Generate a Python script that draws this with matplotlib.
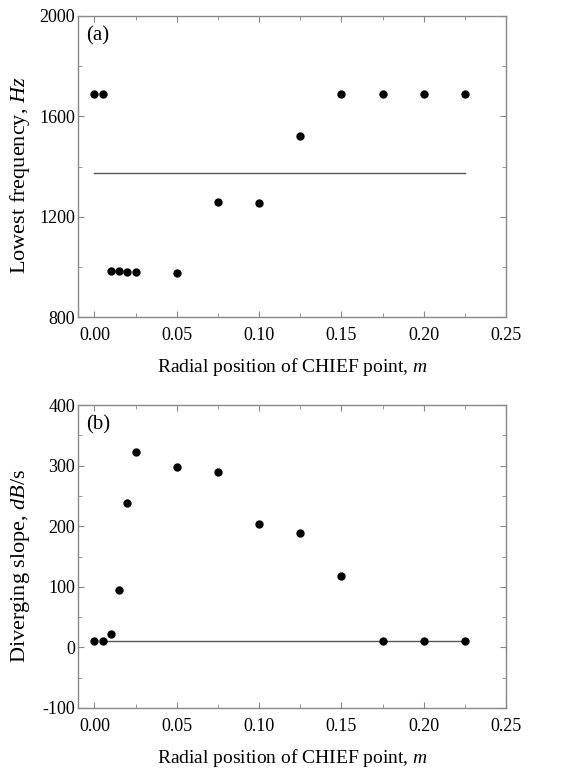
import matplotlib
matplotlib.use("Agg")
import matplotlib.pyplot as plt
from matplotlib.ticker import MultipleLocator

plt.rcParams['font.family'] = ['Liberation Serif', 'DejaVu Serif']
plt.rcParams['mathtext.fontset'] = 'custom'
plt.rcParams['mathtext.it'] = 'Liberation Serif:italic'
plt.rcParams['mathtext.rm'] = 'Liberation Serif'
plt.rcParams['axes.unicode_minus'] = False

# radial position of CHIEF point (m)
radial_pos = [0.0, 0.005, 0.01, 0.015, 0.02, 0.025, 0.05, 0.075, 0.1, 0.125, 0.15, 0.175, 0.2, 0.225]

# (a) lowest frequency, Hz
lowest_freq = [1690, 1690, 983, 982, 980, 979, 976, 1257, 1253, 1521, 1690, 1690, 1690, 1690]
freq_ref = 1375
freq_ref_x = [0.0, 0.225]

# (b) diverging slope, dB/s
div_slope = [10, 10, 22, 94, 238, 323, 297, 290, 203, 189, 118, 10, 10, 10]
slope_ref = 10
slope_ref_x = [0.005, 0.225]

fig = plt.figure(figsize=(5.61, 7.69), dpi=100)
W, H = 561, 769
ax_a = fig.add_axes([78 / W, 1 - 317 / H, 428 / W, 301 / H])
ax_b = fig.add_axes([78 / W, 1 - 708 / H, 428 / W, 303 / H])

spine_col = '#888888'
tick_fs = 13
label_fs = 14
ylabel_fs = 16


def style(ax):
    ax.set_xlim(-0.01, 0.25)
    ax.xaxis.set_major_locator(MultipleLocator(0.05))
    ax.xaxis.set_minor_locator(MultipleLocator(0.025))
    ax.tick_params(which='both', direction='in', top=True, right=True,
                   color=spine_col, labelsize=tick_fs)
    ax.tick_params(axis='x', which='major', pad=7)
    ax.tick_params(axis='y', which='major', pad=2)
    ax.tick_params(which='major', length=4)
    ax.tick_params(which='minor', length=3)
    for s in ax.spines.values():
        s.set_color(spine_col)
        s.set_linewidth(1.0)
    ax.xaxis.set_major_formatter(plt.FuncFormatter(lambda v, p: f"{v:.2f}"))
    ax.set_xlabel('Radial position of CHIEF point, $\\mathit{m}$', fontsize=label_fs, labelpad=9)
    ax.yaxis.set_label_coords(-0.107, 0.47)


ax_a.plot(freq_ref_x, [freq_ref, freq_ref], color='#555555', lw=1.0)
ax_a.plot(radial_pos, lowest_freq, 'o', color='black', ms=5)
ax_a.set_ylim(800, 2000)
ax_a.yaxis.set_major_locator(MultipleLocator(400))
ax_a.yaxis.set_minor_locator(MultipleLocator(200))
ax_a.set_ylabel('Lowest frequency, $\\mathit{Hz}$', fontsize=ylabel_fs)
ax_a.text(0.02, 0.965, '(a)', transform=ax_a.transAxes, fontsize=label_fs + 1, va='top', ha='left')
style(ax_a)

ax_b.plot(slope_ref_x, [slope_ref, slope_ref], color='#555555', lw=1.0)
ax_b.plot(radial_pos, div_slope, 'o', color='black', ms=5)
ax_b.set_ylim(-100, 400)
ax_b.yaxis.set_major_locator(MultipleLocator(100))
ax_b.yaxis.set_minor_locator(MultipleLocator(50))
ax_b.set_ylabel('Diverging slope, $\\mathit{dB}$/s', fontsize=ylabel_fs)
ax_b.text(0.02, 0.965, '(b)', transform=ax_b.transAxes, fontsize=label_fs + 1, va='top', ha='left')
style(ax_b)

fig.savefig('out.png', dpi=100)
